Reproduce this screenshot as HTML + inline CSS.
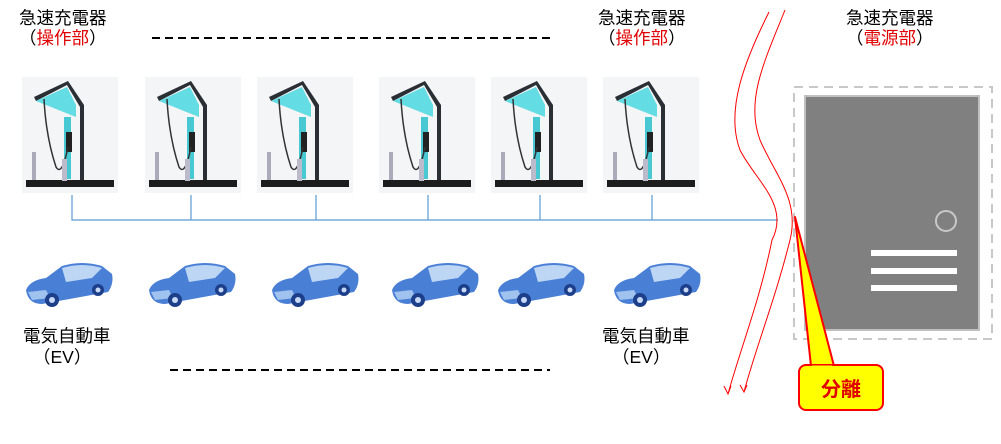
<!DOCTYPE html>
<html><head><meta charset="utf-8"><style>
body{margin:0;background:#fff;width:1001px;height:439px;overflow:hidden;font-family:"Liberation Sans","Noto Sans CJK JP",sans-serif}
svg text{font-family:"Liberation Sans","Noto Sans CJK JP",sans-serif}
</style></head><body>
<svg width="1001" height="439" viewBox="0 0 1001 439" xmlns="http://www.w3.org/2000/svg">
<defs>
<g id="ch">
<rect x="0" y="0" width="96" height="116" fill="#f4f5f6"/>
<rect x="4" y="103" width="88" height="7" fill="#1c1c1c"/>
<path d="M14 24 L45 8 L58 30 L58 103 L62 103 L62 28 L46 4 L12 20 Z" fill="#2a2f36"/>
<path d="M14 24 L45 10 L54 28 L54 40 Z" fill="#3fd6e0" opacity="0.8"/>
<rect x="42" y="40" width="7" height="62" fill="#48c8d2"/>
<rect x="44" y="55" width="6" height="20" fill="#222"/>
<path d="M22 22 Q24 60 34 90 Q40 100 46 70" fill="none" stroke="#333" stroke-width="1.5"/>
<rect x="10" y="75" width="4" height="28" fill="#aab"/>
<rect x="40" y="82" width="5" height="22" fill="#bbc"/>
</g>
<g id="car">
<path d="M4 30 Q8 20 24 18 L40 6 Q60 0 80 6 L90 14 Q92 24 86 32 L20 44 Q6 44 4 30 Z" fill="#4a7fd6"/>
<path d="M40 8 Q60 2 80 8 L70 18 L44 22 Z" fill="#bcd6f4"/>
<path d="M6 32 L24 30 L28 38 L10 40 Z" fill="#9fc2ee"/>
<circle cx="30" cy="40" r="7" fill="#1d3f8a"/><circle cx="30" cy="40" r="3" fill="#c7d9f5"/>
<circle cx="76" cy="30" r="6" fill="#1d3f8a"/><circle cx="76" cy="30" r="2.5" fill="#c7d9f5"/>
</g>
</defs>
<g font-size="17.5" fill="#000">
<text x="19" y="24">急速充電器</text>
<text x="19" y="44">（<tspan fill="#e00000">操作部</tspan>）</text>
<text x="598" y="24">急速充電器</text>
<text x="598" y="44">（<tspan fill="#e00000">操作部</tspan>）</text>
<text x="846" y="24">急速充電器</text>
<text x="846" y="44">（<tspan fill="#e00000">電源部</tspan>）</text>
<text x="23" y="342">電気自動車</text>
<text x="33" y="363">（EV）</text>
<text x="602" y="342">電気自動車</text>
<text x="612" y="363">（EV）</text>
</g>
<line x1="152" y1="38" x2="552" y2="38" stroke="#000" stroke-width="2" stroke-dasharray="8,5"/>
<line x1="170" y1="370" x2="550" y2="370" stroke="#000" stroke-width="2" stroke-dasharray="8,5"/>
<use href="#ch" x="22" y="77"/><use href="#ch" x="145" y="77"/><use href="#ch" x="257" y="77"/>
<use href="#ch" x="379" y="77"/><use href="#ch" x="491" y="77"/><use href="#ch" x="603" y="77"/>
<g stroke="#5b9bd5" stroke-width="1.2" fill="none">
<path d="M72 195 V220 H778"/>
<path d="M191 195 V220 M316 195 V220 M428 195 V220 M540 195 V220 M652 195 V220"/>
</g>
<use href="#car" x="22" y="260"/><use href="#car" x="145" y="260"/><use href="#car" x="268" y="260"/>
<use href="#car" x="388" y="260"/><use href="#car" x="494" y="260"/><use href="#car" x="610" y="260"/>
<g stroke="#ff0000" stroke-width="1" fill="none">
<path d="M769 12 C745 60 725 110 740 150 C755 180 790 205 772 240 C760 300 740 350 728 394"/>
<path d="M785 10 C765 60 745 100 760 140 C775 175 800 200 790 240 C775 300 755 350 744 392"/>
<path d="M724 386 L728 394 L731 386 M740 385 L744 392 L747 385"/>
</g>
<rect x="794" y="87" width="198" height="252" fill="#fff" stroke="#c8c8c8" stroke-width="2" stroke-dasharray="9,6"/>
<rect x="805" y="96" width="174" height="234" fill="#808080" stroke="#c0c0c0" stroke-width="2"/>
<circle cx="946" cy="221" r="10" fill="none" stroke="#c8c8c8" stroke-width="2"/>
<rect x="871" y="250" width="86" height="6" fill="#fff"/>
<rect x="871" y="268" width="86" height="6" fill="#fff"/>
<rect x="871" y="285" width="86" height="6" fill="#fff"/>
<path d="M811 366 L795 217 L834 366 Z" fill="#ffff00" stroke="#ff0000" stroke-width="2" stroke-linejoin="round"/>
<rect x="799" y="365" width="84" height="45" rx="7" fill="#ffff00" stroke="#ff0000" stroke-width="2"/>
<path d="M812 367 L832 367" stroke="#ffff00" stroke-width="3"/>
<text x="841" y="396" font-size="20" font-weight="bold" fill="#e00000" text-anchor="middle">分離</text>
</svg>
</body></html>
